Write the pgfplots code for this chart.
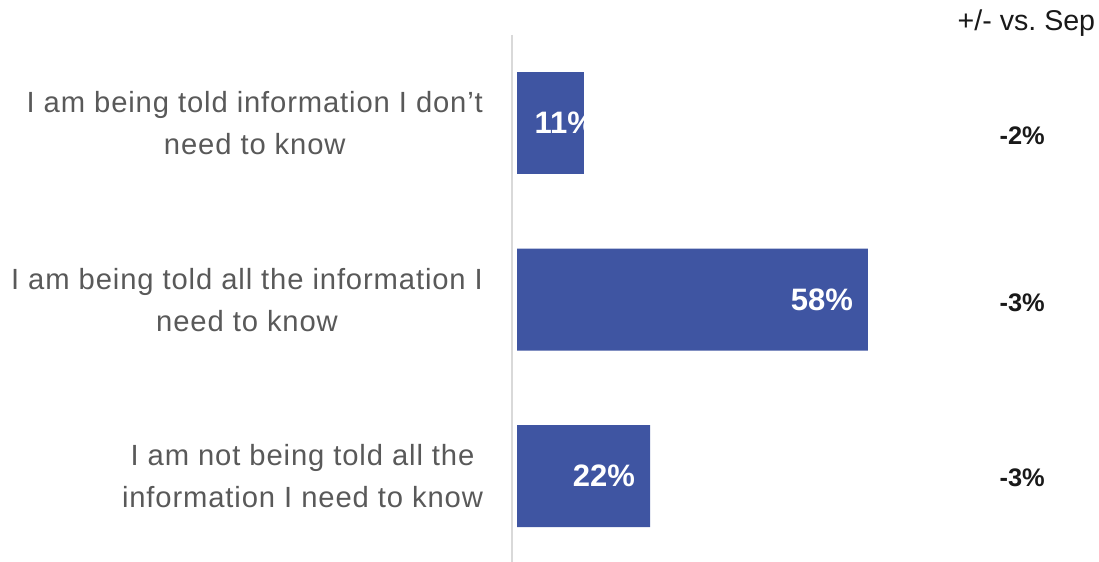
\documentclass[border=0pt]{standalone}
\usepackage{pgfplots}
\pgfplotsset{compat=1.18}
\usepackage{fontspec}
\setmainfont{Liberation Sans}
\newfontfamily\labfont[LetterSpace=3]{Liberation Sans}
\definecolor{barblue}{HTML}{3F55A2}
\definecolor{labgray}{HTML}{595959}
\definecolor{axgray}{HTML}{D9D9D9}
\tikzset{barlab/.style={text=white, font=\fontsize{15.5}{18}\selectfont\bfseries}}
\begin{document}
\begin{tikzpicture}
\begin{axis}[
    scale only axis,
    width=293.5pt, height=263.5pt,
    xmin=-0.83, xmax=96.2,
    ymin=-0.5, ymax=2.487,
    y dir=reverse,
    enlargelimits=false,
    axis x line=none,
    axis y line=left,
    y axis line style={-, draw=axgray, line width=1pt},
    ytick={0,1,2},
    yticklabels={{I am being told information I don’t\\need to know},
                 {I am being told all the information I\\need to know},
                 {I am not being told all the\\information I need to know}},
    major tick length=0pt,
    yticklabel style={align=center, text=labgray, font=\labfont\fontsize{14.6}{21}\selectfont, xshift=-11pt},
    /pgf/number format/assume math mode=true,
    clip=false,
]
% first bar: label starts inside the bar and runs past its end (white on white)
\addplot+[xbar, bar width=51pt, fill=barblue, draw=none, mark=none,
    nodes near coords={\pgfmathprintnumber{\pgfplotspointmeta}\%},
    every node near coord/.append style={anchor=west, xshift=-28pt, barlab}]
    coordinates {(11,0)};
\addplot+[xbar, bar width=51pt, fill=barblue, draw=none, mark=none,
    nodes near coords={\pgfmathprintnumber{\pgfplotspointmeta}\%},
    every node near coord/.append style={anchor=east, xshift=-4pt, barlab}]
    coordinates {(58,1) (22,2)};
\addplot[draw=none, mark=none, forget plot,
    nodes near coords, point meta=explicit symbolic,
    every node near coord/.append style={anchor=center, text=black!90, font=\fontsize{12.7}{15}\selectfont\bfseries}]
    coordinates {(83.5,0.07) [-2\%] (83.5,1.02) [-3\%] (83.5,2.01) [-3\%]};
\node[text=black!90, font=\fontsize{14.3}{17}\selectfont] at (axis cs:84.2,-0.57) {+/- vs.\ Sep};
\end{axis}
\pgfresetboundingbox
\path[use as bounding box] ([xshift=-256pt]current axis.south west) rectangle ([yshift=17.5pt]current axis.north east);
\end{tikzpicture}
\end{document}
